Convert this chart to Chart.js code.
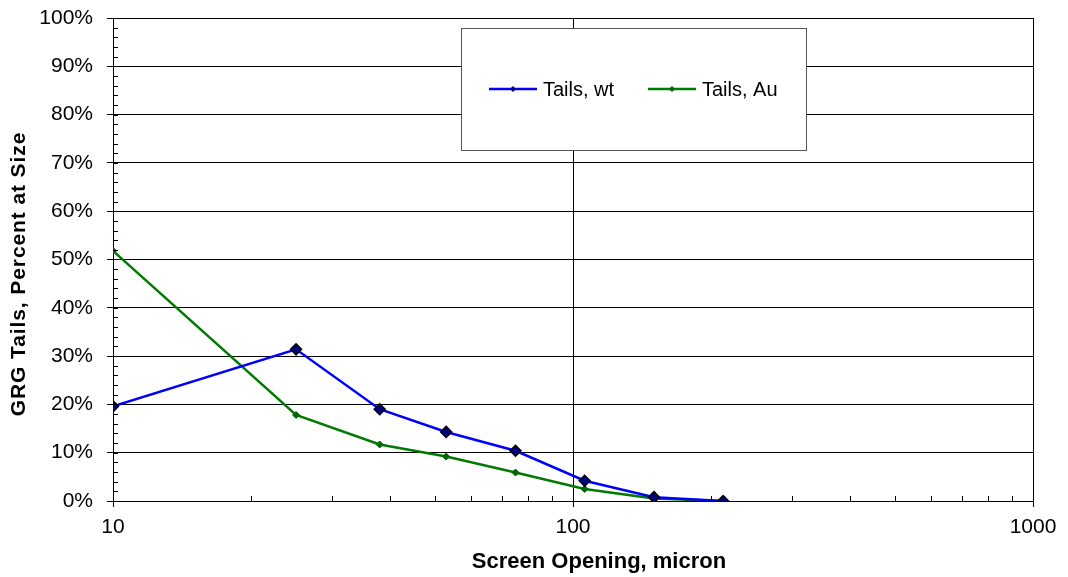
<!DOCTYPE html>
<html>
<head>
<meta charset="utf-8">
<script src="https://cdn.jsdelivr.net/npm/chart.js@4.4.1/dist/chart.umd.min.js"></script>
<style>
  html, body { margin: 0; padding: 0; background: #fff; }
  #wrap { width: 1068px; height: 577px; }
</style>
</head>
<body>
<div id="wrap"><canvas id="grgChart"></canvas></div>
<script>
// Screen openings (micron) and tails percentages
const screenSizes = [10, 25, 38, 53, 75, 106, 150, 212];
const tailsWt = [0.196, 0.314, 0.190, 0.143, 0.104, 0.042, 0.008, 0.0];
const tailsAu = [0.518, 0.178, 0.117, 0.092, 0.059, 0.025, 0.005, 0.0];
const xTickValues = [10, 20, 30, 40, 50, 60, 70, 80, 90, 100, 200, 300, 400, 500, 600, 700, 800, 900, 1000];
const xMajor = [10, 100, 1000];
const xTitle = 'Screen Opening, micron';
const yTitle = 'GRG Tails, Percent at Size';

const font = 'Arial, "Liberation Sans", sans-serif';

const toPoints = (ys) => screenSizes.map((x, i) => ({ x: x, y: ys[i] }));

// Minor tick marks (inside the plot), axis titles and the legend box
const extrasPlugin = {
  id: 'extras',
  afterDraw(chart) {
    const ctx = chart.ctx;
    const xs = chart.scales.x, ys = chart.scales.y;
    const area = chart.chartArea;
    ctx.save();
    ctx.strokeStyle = '#000';
    ctx.lineWidth = 1;
    ctx.beginPath();
    // y minor ticks every 2%
    for (let v = 0.02; v < 1; v += 0.02) {
      const py = Math.round(ys.getPixelForValue(v)) + 0.5;
      ctx.moveTo(area.left, py);
      ctx.lineTo(area.left + 5, py);
    }
    // x minor ticks
    xTickValues.filter(v => !xMajor.includes(v)).forEach(v => {
      const px = Math.round(xs.getPixelForValue(v)) + 0.5;
      ctx.moveTo(px, area.bottom);
      ctx.lineTo(px, area.bottom - 5);
    });
    ctx.stroke();

    // axis titles
    ctx.fillStyle = '#000';
    ctx.font = 'bold 22px ' + font;
    ctx.textAlign = 'center';
    ctx.textBaseline = 'middle';
    ctx.fillText(xTitle, 599, 562);
    ctx.save();
    ctx.translate(19, 274);
    ctx.rotate(-Math.PI / 2);
    ctx.font = 'bold 21px ' + font;
    ctx.letterSpacing = '0.9px';
    ctx.fillText(yTitle, 0, 0);
    ctx.restore();

    // legend box
    const bx = 461, by = 28, bw = 345, bh = 122;
    ctx.fillStyle = '#fff';
    ctx.fillRect(bx, by, bw, bh);
    ctx.strokeStyle = '#555';
    ctx.strokeRect(bx + 0.5, by + 0.5, bw, bh);
    const cy = by + bh / 2;
    const itemX = [489, 648];
    ctx.textAlign = 'left';
    chart.data.datasets.forEach((ds, i) => {
      const x0 = itemX[i];
      ctx.strokeStyle = ds.borderColor;
      ctx.lineWidth = 2.5;
      ctx.beginPath();
      ctx.moveTo(x0, cy);
      ctx.lineTo(x0 + 48, cy);
      ctx.stroke();
      const r = 3;
      ctx.fillStyle = ds.pointBackgroundColor;
      ctx.beginPath();
      ctx.moveTo(x0 + 24, cy - r);
      ctx.lineTo(x0 + 24 + r, cy);
      ctx.lineTo(x0 + 24, cy + r);
      ctx.lineTo(x0 + 24 - r, cy);
      ctx.closePath();
      ctx.fill();
      ctx.fillStyle = '#000';
      ctx.font = '20px ' + font;
      ctx.fillText(ds.label, x0 + 54, cy + 1);
    });
    ctx.restore();
  }
};

new Chart(document.getElementById('grgChart'), {
  type: 'line',
  data: {
    datasets: [
      {
        label: 'Tails, wt',
        data: toPoints(tailsWt),
        borderColor: '#0000ff',
        borderWidth: 2.5,
        pointStyle: 'rectRot',
        pointRadius: 5.5,
        pointBackgroundColor: '#000080',
        pointBorderColor: '#000',
        pointBorderWidth: 1.5,
        tension: 0
      },
      {
        label: 'Tails, Au',
        data: toPoints(tailsAu),
        borderColor: '#007a00',
        borderWidth: 2.5,
        pointStyle: 'rectRot',
        pointRadius: 3.5,
        pointBackgroundColor: '#006400',
        pointBorderColor: '#006400',
        pointBorderWidth: 1,
        tension: 0
      }
    ]
  },
  options: {
    responsive: true,
    maintainAspectRatio: false,
    animation: false,
    layout: { padding: { left: 0, right: 35, top: 18, bottom: 0 } },
    plugins: {
      legend: { display: false },
      tooltip: { enabled: false }
    },
    scales: {
      x: {
        type: 'logarithmic',
        min: 10,
        max: 1000,
        afterBuildTicks: (scale) => {
          scale.ticks = xTickValues.map(v => ({ value: v }));
        },
        afterFit: (scale) => { scale.height = 76; },
        ticks: {
          autoSkip: false,
          maxRotation: 0,
          color: '#000',
          font: { family: font, size: 21 },
          padding: 8,
          callback: (v) => xMajor.includes(v) ? String(v) : ''
        },
        grid: {
          color: (c) => c.tick && xMajor.includes(c.tick.value) ? '#000' : 'transparent',
          tickColor: (c) => c.tick && xMajor.includes(c.tick.value) ? '#000' : 'transparent',
          tickLength: 6,
          lineWidth: 1
        },
        border: { color: '#000', width: 1 }
      },
      y: {
        min: 0,
        max: 1,
        afterFit: (scale) => {
          scale.width = 113;
          scale.paddingTop = 0;
          scale.paddingBottom = 0;
        },
        ticks: {
          stepSize: 0.1,
          color: '#000',
          font: { family: font, size: 21 },
          padding: 14,
          callback: (v) => Math.round(v * 100) + '%'
        },
        grid: {
          color: '#000',
          tickColor: '#000',
          tickLength: 6,
          lineWidth: 1
        },
        border: { color: '#000', width: 1 }
      }
    }
  },
  plugins: [extrasPlugin]
});
</script>
</body>
</html>
